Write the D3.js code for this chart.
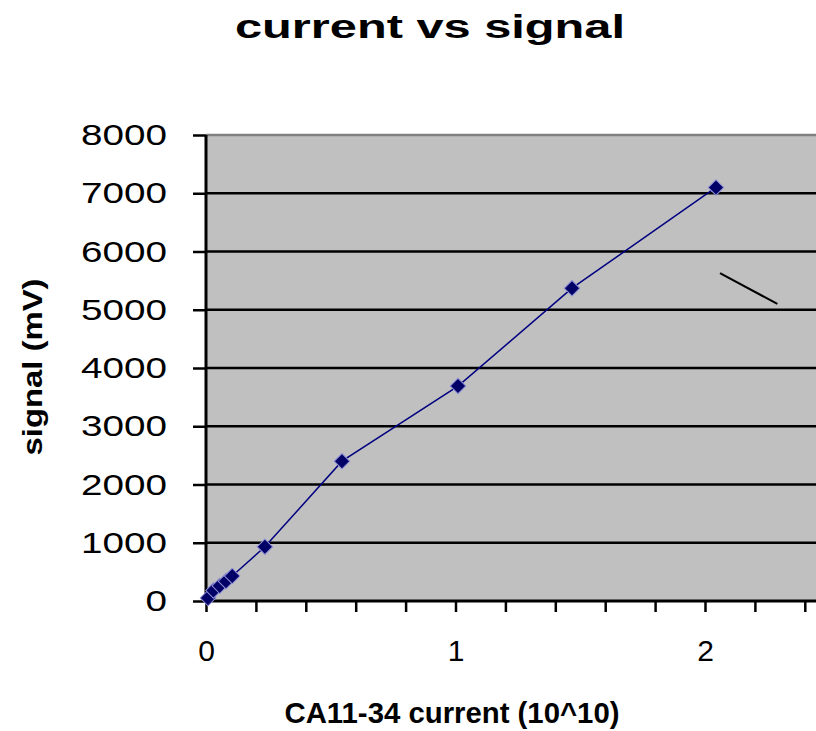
<!DOCTYPE html>
<html>
<head>
<meta charset="utf-8">
<title>current vs signal</title>
<style>
  body { margin: 0; background: #fff; }
  text { font-family: "Liberation Sans", Arial, sans-serif; fill: #000; }
</style>
</head>
<body>
<div class="plot_container"></div>
<script src="https://cdn.jsdelivr.net/npm/d3@7"></script>
<script>
// data
var currents = [0.008, 0.03, 0.055, 0.08, 0.105, 0.236, 0.545, 1.01, 1.467, 2.044];
var signals  = [50, 180, 260, 340, 430, 930, 2400, 3690, 5370, 7100];
var yTicks = [0, 1000, 2000, 3000, 4000, 5000, 6000, 7000, 8000];
var xTicks = [0, 0.2, 0.4, 0.6, 0.8, 1, 1.2, 1.4, 1.6, 1.8, 2, 2.2, 2.4];
var xLabels = [0, 1, 2];
// stray leader line on the right (cut-off label)
var leaderX = [2.06, 2.29];
var leaderY = [5630, 5100];

(function(){
    var width = 816, height = 731;
    var pl = 206, pr = 816, pt = 135, pb = 601;

    var svg = d3.select(".plot_container").append("svg")
        .attr("width", width)
        .attr("height", height);

    var x = d3.scaleLinear().domain([0, (pr - pl) / 249.5]).range([pl, pr]);
    var y = d3.scaleLinear().domain([0, 8000]).range([pb, pt]);

    // plot area
    svg.append("rect")
        .attr("x", pl).attr("y", pt)
        .attr("width", pr - pl).attr("height", pb - pt)
        .style("fill", "#c0c0c0");

    // grid lines
    svg.selectAll(".grid")
        .data(yTicks.filter(function(d){ return d > 0 && d < 8000; }))
        .enter().append("line")
        .attr("class", "grid")
        .attr("x1", pl).attr("x2", pr)
        .attr("y1", function(d){ return y(d); })
        .attr("y2", function(d){ return y(d); })
        .style("stroke", "#000")
        .style("stroke-width", 2.5);

    svg.append("line")
        .attr("x1", pl).attr("x2", pr)
        .attr("y1", y(8000)).attr("y2", y(8000))
        .style("stroke", "#808080")
        .style("stroke-width", 2.5);

    // y axis
    var yAxis = svg.append("g")
        .attr("transform", "translate(" + pl + ",0)")
        .call(d3.axisLeft(y).tickValues(yTicks).tickSize(13).tickPadding(26)
            .tickFormat(d3.format("d")));
    yAxis.select(".domain").remove();
    yAxis.selectAll(".tick line").style("stroke", "#000").style("stroke-width", 2.5);
    yAxis.selectAll(".tick text")
        .style("font-size", "30px")
        .style("font-family", "'Liberation Sans', Arial, sans-serif")
        .attr("textLength", function(d){ return String(d).length * 21.5; })
        .attr("lengthAdjust", "spacingAndGlyphs");

    // x axis
    var xAxis = svg.append("g")
        .attr("transform", "translate(0," + pb + ")")
        .call(d3.axisBottom(x).tickValues(xTicks).tickSize(11).tickPadding(28)
            .tickFormat(function(d){ return xLabels.indexOf(d) >= 0 ? d : ""; }));
    xAxis.select(".domain").remove();
    xAxis.selectAll(".tick line").style("stroke", "#000").style("stroke-width", 2.5);
    xAxis.selectAll(".tick text")
        .style("font-size", "30px")
        .style("font-family", "'Liberation Sans', Arial, sans-serif");

    svg.append("line")
        .attr("x1", pl).attr("x2", pl)
        .attr("y1", pt).attr("y2", pb + 1.5)
        .style("stroke", "#000").style("stroke-width", 3);
    svg.append("line")
        .attr("x1", pl - 1.5).attr("x2", pr)
        .attr("y1", pb).attr("y2", pb)
        .style("stroke", "#000").style("stroke-width", 3);

    // series
    var points = currents.map(function(c, i){ return [c, signals[i]]; });
    var line = d3.line()
        .x(function(d){ return x(d[0]); })
        .y(function(d){ return y(d[1]); });

    svg.append("path")
        .datum(points)
        .attr("d", line)
        .style("fill", "none")
        .style("stroke", "#000080")
        .style("stroke-width", 1.5);

    svg.selectAll(".pt")
        .data(points)
        .enter().append("path")
        .attr("class", "pt")
        .attr("d", d3.symbol().type(d3.symbolSquare).size(120))
        .attr("transform", function(d){
            return "translate(" + x(d[0]) + "," + y(d[1]) + ") rotate(45)";
        })
        .style("fill", "#000066")
        .style("stroke", "#9090d8")
        .style("stroke-width", 1);

    svg.append("line")
        .attr("x1", x(leaderX[0])).attr("y1", y(leaderY[0]))
        .attr("x2", x(leaderX[1])).attr("y2", y(leaderY[1]))
        .style("stroke", "#000").style("stroke-width", 2);

    // titles
    svg.append("text")
        .attr("x", 430).attr("y", 38)
        .attr("text-anchor", "middle")
        .attr("textLength", 390)
        .attr("lengthAdjust", "spacingAndGlyphs")
        .style("font-size", "34px")
        .style("font-weight", "bold")
        .text("current vs signal");

    svg.append("text")
        .attr("x", 452).attr("y", 723)
        .attr("text-anchor", "middle")
        .attr("textLength", 335)
        .attr("lengthAdjust", "spacingAndGlyphs")
        .style("font-size", "30px")
        .style("font-weight", "bold")
        .text("CA11-34 current (10^10)");

    svg.append("text")
        .attr("transform", "translate(42,367) rotate(-90)")
        .attr("text-anchor", "middle")
        .attr("textLength", 177)
        .attr("lengthAdjust", "spacingAndGlyphs")
        .style("font-size", "27px")
        .style("font-weight", "bold")
        .text("signal (mV)");
})();
</script>
</body>
</html>
